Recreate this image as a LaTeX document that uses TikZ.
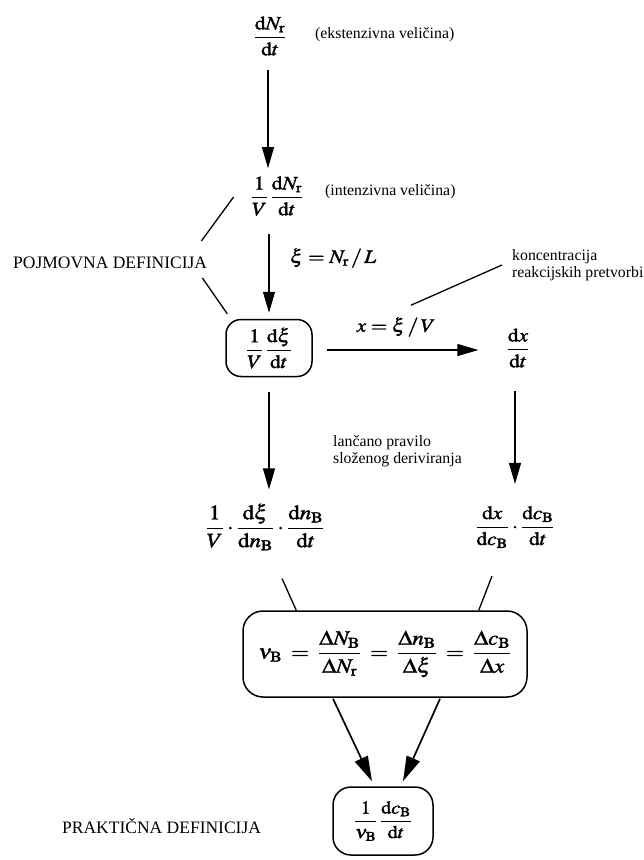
\documentclass[tikz,border=0pt]{standalone}
\usepackage{amsmath}
\usepackage{mathptmx}
\usepackage{graphicx}
\usepackage{fontspec}
\setmainfont{Liberation Serif}
\usetikzlibrary{arrows.meta,calc}
\newcommand\hsc[1]{\special{pdf:literal direct 2 Tr 0.3 w}\scalebox{1.12}[1]{#1}\special{pdf:literal direct 0 Tr}}
\newcommand\eqq{\mathrel{\mkern3mu=\mkern3mu}}
\tikzset{
 txt/.style={font=\fontsize{15.8}{16.5}\selectfont, inner sep=0pt},
 caps/.style={font=\fontsize{17.5}{20}\selectfont, inner sep=0pt},
 mth/.style={font=\fontsize{19}{22}\selectfont, inner sep=0pt},
 arr/.style={line width=1.1pt, -{Triangle[length=21pt,width=12pt]}},
 arrb/.style={line width=1.7pt, -{Triangle[length=25pt,width=14pt]}},
 ln/.style={line width=1.3pt},
 rbox/.style={draw, line width=1.5pt, inner sep=0pt},
}
\begin{document}
\begin{tikzpicture}[x=1pt,y=-1pt]
\useasboundingbox (0,0) rectangle (644,860);
\node[mth] (f1) at (270,36) {\hsc{$\dfrac{\mathrm{d}N_\mathrm{r}}{\mathrm{d}t}$}};
\node[txt, anchor=west] (ekst) at (315,35) {(ekstenzivna veličina)};
\node[mth] (f2) at (277,196) {\hsc{$\dfrac{1}{V}\,\dfrac{\mathrm{d}N_\mathrm{r}}{\mathrm{d}t}$}};
\node[txt, anchor=west] (int) at (325,192) {(intenzivna veličina)};
\node[caps, anchor=west] (poj) at (13,263) {POJMOVNA DEFINICIJA};
\node[mth, anchor=west] (xieq) at (290,258) {\hsc{$\xi = N_\mathrm{r}\,/\,L$}};
\node[rbox, rounded corners=15pt, minimum width=86pt, minimum height=57pt, mth] (b1) at (269,348) {\hsc{$\dfrac{1}{V}\,\dfrac{\mathrm{d}\xi}{\mathrm{d}t}$}};
\node[mth] (xeq) at (396,327) {\hsc{$x = \xi\,/\,V$}};
\node[txt, anchor=west, align=left] (kon) at (512,265) {koncentracija\\reakcijskih pretvorbi};
\node[mth] (dxdt) at (518,348) {\hsc{$\dfrac{\mathrm{d}x}{\mathrm{d}t}$}};
\node[txt, anchor=west, align=left] (lanc) at (333,451) {lančano pravilo\\složenog deriviranja};
\node[mth, font=\fontsize{20.5}{24}\selectfont] (lf) at (265,527) {\hsc{$\dfrac{1}{V}\cdot\dfrac{\mathrm{d}\xi}{\mathrm{d}n_\mathrm{B}}\cdot\dfrac{\mathrm{d}n_\mathrm{B}}{\mathrm{d}t}$}};
\node[mth] (rf) at (515,527) {\hsc{$\dfrac{\mathrm{d}x}{\mathrm{d}c_\mathrm{B}}\cdot\dfrac{\mathrm{d}c_\mathrm{B}}{\mathrm{d}t}$}};
\node[rbox, rounded corners=20pt, minimum width=284pt, minimum height=86pt, font=\fontsize{20.5}{24}\selectfont] (big) at (385,654) {\hsc{$\nu_\mathrm{B} \eqq \dfrac{\Delta N_\mathrm{B}}{\Delta N_\mathrm{r}} \eqq \dfrac{\Delta n_\mathrm{B}}{\Delta\xi} \eqq \dfrac{\Delta c_\mathrm{B}}{\Delta x}$}};
\node[rbox, rounded corners=18pt, minimum width=100pt, minimum height=68pt, mth, font=\fontsize{18}{21}\selectfont] (b2) at (383,821) {\hsc{$\dfrac{1}{\nu_\mathrm{B}}\,\dfrac{\mathrm{d}c_\mathrm{B}}{\mathrm{d}t}$}};
\node[caps, anchor=west] (prak) at (62,826) {PRAKTIČNA DEFINICIJA};
% connectors
\draw[arr] ($(f1.south)+(-2,14)$) -- ($(f1.south |- f2.north)+(-2,-8)$);
\draw[arr] ($(b1.north |- f2.south)+(0,18)$) -- ($(b1.north)+(0,-6)$);
\draw[arr] ($(b1.south)+(0,15)$) -- ($(b1.south |- lf.north)+(0,-14)$);
\draw[arr] ($(b1.east)+(14,2)$) -- ($(b1.east -| dxdt.west)+(-28,2)$);
\draw[arr] ($(rf.north |- dxdt.south)+(0,23)$) -- ($(rf.north)+(0,-22)$);
\draw[ln] ($(poj.east)+(-6,-22)$) -- ($(f2.west)+(-17,1)$);
\draw[ln] ($(poj.east)+(-5,15)$) -- ($(b1.north west)+(2,-5)$);
\draw[ln] ($(xeq.north)+(15,-12)$) -- ($(kon.west)+(-10,0)$);
\draw[ln] ($(lf.south)+(17,28)$) -- ($(big.north west)+(54,0)$);
\draw[ln] ($(rf.south)+(-23,28)$) -- ($(big.north east)+(-49,0)$);
\draw[arrb] ($(big.south)+(-52,1)$) -- ($(b2.north)+(-11,-5)$);
\draw[arrb] ($(big.south)+(55,1)$) -- ($(b2.north)+(20,-5)$);
\end{tikzpicture}
\end{document}
